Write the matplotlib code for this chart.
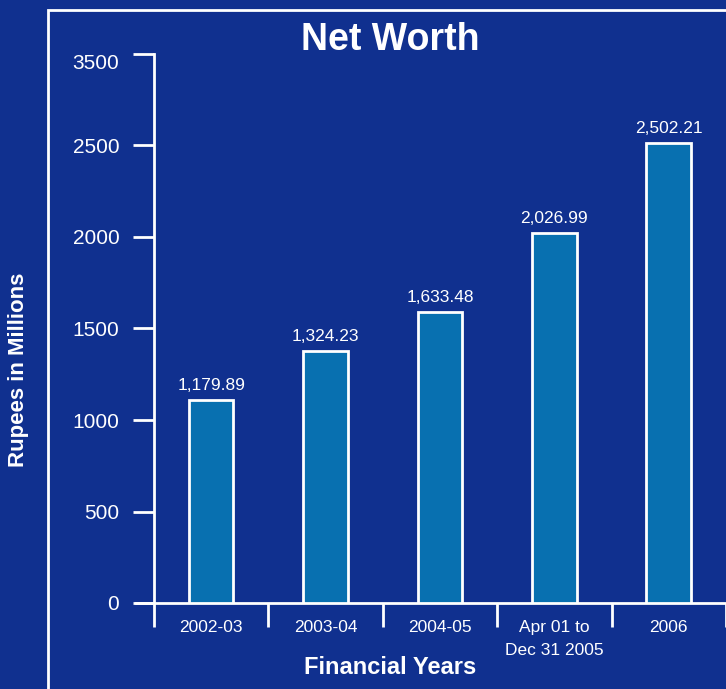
import matplotlib.pyplot as plt
from matplotlib.patches import Rectangle

# data
categories = ['2002-03', '2003-04', '2004-05', 'Apr 01 to\nDec 31 2005', '2006']
bar_heights = [1110, 1377, 1590, 2022, 2514]
value_labels = ['1,179.89', '1,324.23', '1,633.48', '2,026.99', '2,502.21']
ytick_values = [0, 500, 1000, 1500, 2000, 2500, 3000]
ytick_labels = ['0', '500', '1000', '1500', '2000', '2500', '3500']

bg = '#10308f'
bar_color = '#0870b0'

plt.rcParams['font.family'] = ['Liberation Sans', 'DejaVu Sans']

fig = plt.figure(figsize=(7.26, 6.89), dpi=100, facecolor=bg)

# white frame around the plot area
fig.patches.append(Rectangle((48 / 726, -0.1), 1.2, 1 - 10 / 689 + 0.1,
                             transform=fig.transFigure, fill=False,
                             edgecolor='white', linewidth=2))

# axes: left edge where x-axis line starts (136px), right edge at figure edge
ax = fig.add_axes([136 / 726, (689 - 603) / 689, (726 - 136) / 726, (603 - 54) / 689])
ax.set_facecolor('none')

x = list(range(len(categories)))
ax.bar(x, bar_heights, width=0.39, color=bar_color, edgecolor='white', linewidth=2, zorder=3)

for xi, h, lab in zip(x, bar_heights, value_labels):
    ax.text(xi, h + 40, lab, ha='center', va='bottom', color='white', fontsize=12.5)

ax.set_xlim(-0.5 - 18 / 114.5, 4.5)
ax.set_ylim(0, 3000)

for s in ['top', 'right']:
    ax.spines[s].set_visible(False)
ax.spines['left'].set_position(('data', -0.5))
ax.spines['left'].set_color('white')
ax.spines['left'].set_linewidth(2)
ax.spines['bottom'].set_color('white')
ax.spines['bottom'].set_linewidth(2)

ax.set_yticks(ytick_values)
ax.set_yticklabels(ytick_labels)
ax.tick_params(axis='y', colors='white', labelsize=15, length=15, width=2, pad=10)
labels = ax.get_yticklabels()
labels[-1].set_verticalalignment('top')

# category boundary ticks on x axis
ax.set_xticks([i - 0.5 for i in range(len(categories) + 1)])
ax.set_xticklabels([])
ax.tick_params(axis='x', colors='white', length=17, width=2)
for xi, c in zip(x, categories):
    ax.text(xi, -95, c, ha='center', va='top', color='white', fontsize=12.5,
            linespacing=1.65)

fig.text(390 / 726, 1 - 40 / 689, 'Net Worth', ha='center', va='center',
         color='white', fontsize=27, fontweight='bold')
fig.text(390 / 726, 1 - 668 / 689, 'Financial Years', ha='center', va='center',
         color='white', fontsize=17, fontweight='bold')
fig.text(19 / 726, 1 - 370 / 689, 'Rupees in Millions', ha='center', va='center',
         rotation=90, color='white', fontsize=16, fontweight='bold')

fig.savefig('out.png', dpi=100, facecolor=bg)
